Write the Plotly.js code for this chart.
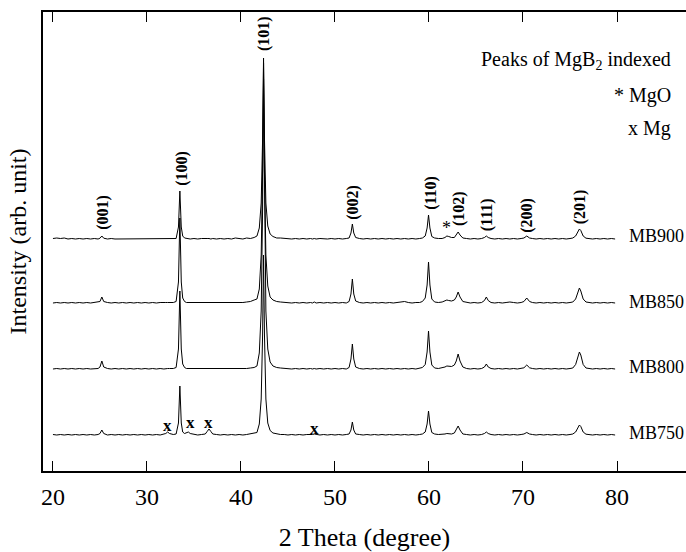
<!DOCTYPE html>
<html>
<head>
<meta charset="utf-8">
<script src="https://cdn.plot.ly/plotly-3.0.1.min.js"></script>
<style>html,body{margin:0;padding:0;background:#fff}#chart{width:686px;height:552px}</style>
</head>
<body>
<div id="chart"></div>
<script>
// 2-theta sampling (degrees)
const twoTheta = [
  20, 20.4, 20.8, 21.2, 21.6, 22, 22.4, 22.8, 23.2, 23.6, 24, 24.4, 24.8,
  25.0, 25.2, 25.4, 25.8, 26.2, 26.6, 27, 27.4, 27.8, 28.2, 28.6, 29, 29.4,
  29.8, 30.2, 30.6, 31, 31.4, 31.8, 32.0, 32.2, 32.4, 32.8, 33.1, 33.35, 33.5,
  33.65, 33.8, 34.0, 34.2, 34.4, 34.6, 35.0, 35.4, 35.8, 36.2, 36.4, 36.6, 36.8,
  37.0, 37.4, 37.8, 38.2, 38.6, 39, 39.4, 39.8, 40.2, 40.6, 41, 41.4, 41.7,
  41.95, 42.15, 42.3, 42.4, 42.5, 42.65, 42.85, 43.1, 43.4, 43.8, 44.2, 44.6, 45,
  45.4, 45.8, 46.2, 46.6, 47, 47.4, 47.6, 47.8, 48.0, 48.4, 48.8, 49.2, 49.6,
  50, 50.4, 50.8, 51.2, 51.5, 51.7, 51.85, 52.0, 52.2, 52.6, 53, 53.4, 53.8,
  54.2, 54.6, 55, 55.4, 55.8, 56.2, 56.6, 57, 57.4, 57.8, 58.2, 58.6, 59,
  59.3, 59.6, 59.8, 59.95, 60.1, 60.3, 60.6, 61, 61.4, 61.7, 61.9, 62.1, 62.4,
  62.7, 62.9, 63.1, 63.3, 63.6, 64, 64.4, 64.8, 65.2, 65.6, 65.9, 66.1, 66.3,
  66.6, 67, 67.4, 67.8, 68.2, 68.6, 69, 69.4, 69.8, 70.1, 70.4, 70.7, 71,
  71.4, 71.8, 72.2, 72.6, 73, 73.4, 73.8, 74.2, 74.6, 75, 75.3, 75.6, 75.85,
  76.0, 76.15, 76.4, 76.7, 77, 77.4, 77.8, 78.2, 78.6, 79, 79.4, 79.8
];

// intensities (arb. unit)
const mb900 = [
  0.5, 1, 0.5, 1, 0, 0.5, 0, 0.5, 0, 0.5, 0, 0.5, 0,
  0.8, 3, 0.8, 0, 0.5, 0, 0, 0.5, 0, 0, 0.5, 0, 0.5,
  0, 0.5, 0, 0, 0.5, 0, 0.5, 0.5, 0.5, 0, 0.5, 12, 48,
  12, 3, 1, 0.5, 0.5, 0, 0.5, 0, 0.5, 0, 0.5, 0.5, 0,
  0.5, 0, 0.5, 0, 0.5, 0, 1, 0.5, 0, 1, 0.5, 1.5, 3,
  11, 36, 100, 181, 100, 36, 13, 5, 2.5, 1, 1, 0.5, 0.5,
  0, 0.5, 0, 0.5, 0, 0.5, 0, 0.5, 0, 0.5, 0, 0, 0.5,
  0, 0.5, 0, 0.5, 1, 6, 15, 6, 1.5, 0.5, 0, 0.5, 0,
  0.5, 0, 0.5, 0, 0.5, 0, 0.5, 0, 0.5, 0, 0.5, 0, 0.5,
  1, 3, 11, 24, 11, 2.5, 1, 0.5, 0.5, 1.5, 3, 2.5, 1.5,
  1.5, 4, 7, 4, 1, 0.5, 0, 0.5, 0, 0.5, 1.5, 3, 1.5,
  0.5, 0, 0.5, 0, 0.5, 0, 0.5, 0, 0.5, 1, 3, 1, 0.5,
  0, 0.5, 0, 0.5, 0, 0.5, 0, 0.5, 0, 0.5, 1, 3, 8.5,
  10, 8.5, 3, 0.8, 0.5, 0, 0.5, 0, 0.5, 0, 0.5, 0
];
const mb850 = [
  0, 0.5, 0, 0.5, 0, 0.5, 0, 0.5, 0, 0.5, 0, 0.5, 0.5,
  1.5, 6, 1.5, 0.5, 0, 0.5, 0, 0.5, 0, 0.5, 0, 0.5, 0,
  0.5, 0, 0.5, 0, 0.5, 0, 0.5, 0.5, 0.5, 0.5, 1.5, 21, 85,
  21, 5, 1.5, 0.5, 0.5, 0, 0.5, 0, 0.5, 0, 0.5, 0.5, 0,
  0.5, 0, 0.5, 0, 0.5, 0, 0.5, 0, 0.5, 1, 1.5, 3, 4,
  14, 48, 132, 240, 132, 48, 17, 6, 3, 1.5, 1, 0.5, 0.5,
  0, 0.5, 0, 0.5, 0, 0.5, 0, 1, 0, 0.5, 0, 0.5, 0,
  0.5, 0, 0.5, 0, 1.5, 9, 24, 9, 2, 0.5, 0, 0.5, 0,
  0.5, 0, 0.5, 0, 0.5, 0, 0.5, 0.5, 1.5, 0.5, 0, 0.5, 0.5,
  1.5, 5, 18, 41, 18, 4, 1, 0.5, 1, 2, 3, 2.5, 2,
  3, 6, 11, 6, 1.5, 0.5, 0, 0.5, 0, 0.5, 2.5, 6, 2.5,
  0.5, 0, 0.5, 0, 0.5, 1, 0.5, 0, 0.5, 1.5, 5, 1.5, 0.5,
  0, 0.5, 0, 0.5, 0, 0.5, 0, 0.5, 0, 0.5, 1, 4, 12,
  15, 12, 4, 1, 0.5, 0, 0.5, 0, 0.5, 0, 0.5, 0
];
const mb800 = [
  0, 0.5, 0, 0.5, 0, 0.5, 0, 0.5, 0, 0.5, 0, 0.5, 0.5,
  2, 8, 2, 0.5, 0, 0.5, 0, 0.5, 0, 0.5, 0, 0.5, 0,
  0.5, 0, 0.5, 0, 0.5, 0, 0.5, 0.5, 0.5, 0.5, 1.5, 20, 78,
  20, 5, 1.5, 0.5, 0.5, 0, 0.5, 0, 0.5, 0, 0.5, 0.5, 0,
  0.5, 0, 0.5, 0, 0.5, 0, 0.5, 0, 0.5, 0.5, 1, 1.5, 3,
  16, 58, 160, 290, 160, 58, 20, 7, 3, 1.5, 1, 0.5, 0.5,
  0, 0.5, 0, 0.5, 0, 0.5, 0, 0.5, 0, 0.5, 0, 0.5, 0,
  0.5, 0, 0.5, 0, 1.5, 10, 25, 10, 2, 0.5, 0, 0.5, 0,
  0.5, 0, 0.5, 0, 0.5, 0, 0.5, 0, 0.5, 0, 0.5, 0, 0.5,
  1.5, 4.5, 17, 38, 17, 4, 1, 0.5, 1, 2, 3, 2.5, 2.5,
  4, 8, 15, 8, 2, 0.5, 0, 0.5, 0, 0.5, 2, 5, 2,
  0.5, 0, 0.5, 0, 0.5, 0, 0.5, 0, 0.5, 1.2, 4, 1.2, 0.5,
  0, 0.5, 0, 0.5, 0, 0.5, 0, 0.5, 0, 0.5, 1, 4.5, 14,
  17, 14, 4.5, 1, 0.5, 0, 0.5, 0, 0.5, 0, 0.5, 0
];
const mb750 = [
  0.5, 0, 0.5, 0, 0.5, 0, 0.5, 0, 0.5, 0, 0.5, 0, 0.5,
  1.5, 5, 1.5, 0, 0.5, 0, 0.5, 0, 0.5, 0, 0.5, 0, 0.5,
  0, 0.5, 0, 0.5, 0, 0.5, 1.5, 3, 1.5, 0.5, 1, 12, 49,
  12, 3, 1.5, 2, 3, 1.5, 0.5, 0, 0.5, 1, 3.5, 6, 3.5,
  1, 0.5, 0, 0.5, 0, 0.5, 0, 0.5, 0, 0.5, 1, 1.5, 2.5,
  11, 36, 100, 180, 100, 36, 12, 4.5, 2, 1, 0.5, 0.5, 0,
  0.5, 0, 0.5, 0, 0.5, 0, 0.5, 1, 0.5, 0, 0.5, 0, 0.5,
  0, 0.5, 0, 0.5, 1, 5, 13, 5, 1, 0.5, 0, 0.5, 0,
  0.5, 0, 0.5, 0, 0.5, 0, 0.5, 0, 0.5, 0, 0.5, 0, 0.5,
  1, 3, 11, 24, 11, 2.5, 1, 0.5, 0.5, 1, 1.5, 1.5, 1,
  2, 5, 9, 5, 1, 0.5, 0, 0.5, 0, 0.5, 1.5, 3, 1.5,
  0.5, 0, 0.5, 0, 0.5, 0, 0.5, 0, 0.5, 1, 2.5, 1, 0.5,
  0, 0.5, 0, 0.5, 0, 0.5, 0, 0.5, 0, 0.5, 1, 3, 8.5,
  10, 8.5, 3, 0.8, 0.5, 0, 0.5, 0, 0.5, 0, 0.5, 0
];

const sampleNames = ['MB900', 'MB850', 'MB800', 'MB750'];
const sampleData = [mb900, mb850, mb800, mb750];
const stackOffsets = [232, 168, 102, 36];

// MgB2 reflections
const hklLabels = ['(001)', '(100)', '(101)', '(002)', '(110)', '(102)', '(111)', '(200)', '(201)'];
const hklPos = [25.3, 33.7, 42.45, 51.9, 60.2, 63.2, 66.2, 70.4, 76.1];
const hklLabelY = [259, 303, 437, 269, 278, 262, 256, 256, 264];
// impurity marks
const mgPos = [32.2, 34.6, 36.5, 47.8];
const mgLabelY = [46, 49, 49, 43];
const mgoPos = [61.9];
const mgoLabelY = [243];

const FONT = 'Liberation Serif, Times New Roman, serif';

const traces = sampleData.map((d, i) => ({
  type: 'scatter', mode: 'lines', name: sampleNames[i],
  x: twoTheta, y: d.map(v => v + stackOffsets[i]),
  line: {color: '#000', width: 1}, hoverinfo: 'skip'
}));

const annotations = [];
hklLabels.forEach((t, i) => annotations.push({
  x: hklPos[i], y: hklLabelY[i], xref: 'x', yref: 'y', text: '<b>' + t + '</b>',
  textangle: -90, showarrow: false, xanchor: 'center', yanchor: 'middle',
  font: {family: FONT, size: 16, color: '#000'}
}));
mgPos.forEach((p, i) => annotations.push({
  x: p, y: mgLabelY[i], xref: 'x', yref: 'y', text: '<b>x</b>', showarrow: false,
  xanchor: 'center', yanchor: 'middle', font: {family: FONT, size: 17, color: '#000'}
}));
mgoPos.forEach((p, i) => annotations.push({
  x: p, y: mgoLabelY[i], xref: 'x', yref: 'y', text: '*', showarrow: false,
  xanchor: 'center', yanchor: 'middle', font: {family: FONT, size: 18, color: '#000'}
}));
const labelY = [235, 169, 104, 38];
sampleNames.forEach((n, i) => annotations.push({
  x: 81.06, y: labelY[i], xref: 'x', yref: 'y', text: n, showarrow: false,
  xanchor: 'left', yanchor: 'middle', font: {family: FONT, size: 18, color: '#000'}
}));
const legendLines = ['Peaks of MgB<sub>2</sub> indexed', '* MgO', 'x Mg'];
const legendY = [411, 376, 343];
legendLines.forEach((t, i) => annotations.push({
  x: 85.96, y: legendY[i], xref: 'x', yref: 'y', text: t, showarrow: false,
  xanchor: 'right', yanchor: 'middle', font: {family: FONT, size: 20, color: '#000'}
}));

const layout = {
  width: 686, height: 552,
  margin: {l: 43, r: 0, t: 12, b: 81, pad: 0},
  paper_bgcolor: '#fff', plot_bgcolor: '#fff',
  showlegend: false,
  font: {family: FONT, color: '#000'},
  xaxis: {
    range: [18.94, 87.34], tickvals: [20, 30, 40, 50, 60, 70, 80],
    ticks: 'inside', ticklen: 10, tickwidth: 1, tickcolor: '#000',
    showline: true, linecolor: '#000', linewidth: 1.6, mirror: 'ticks',
    showgrid: false, zeroline: false, ticklabelstandoff: 4,
    tickfont: {family: FONT, size: 24, color: '#000'},
    title: {text: '2 Theta (degree)', font: {family: FONT, size: 26, color: '#000'}, standoff: 18}
  },
  yaxis: {
    range: [0, 459], showticklabels: false, ticks: '',
    showline: true, linecolor: '#000', linewidth: 1.6,
    showgrid: false, zeroline: false,
    title: {text: 'Intensity (arb. unit)', font: {family: FONT, size: 24, color: '#000'}, standoff: 8}
  },
  annotations: annotations
};

Plotly.newPlot('chart', traces, layout, {displayModeBar: false, staticPlot: true});
</script>
</body>
</html>
